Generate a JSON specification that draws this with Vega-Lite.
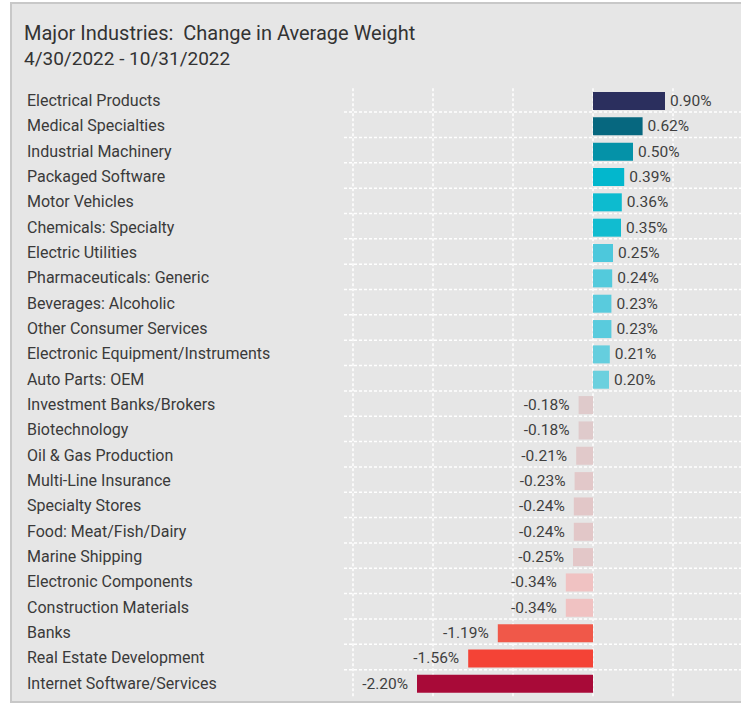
{
  "$schema": "https://vega.github.io/schema/vega-lite/v6.json",
  "width": 733,
  "height": 699,
  "autosize": {"type": "none"},
  "padding": {"left": 11, "top": 3, "right": -3, "bottom": 5},
  "background": "white",
  "config": {
    "view": {"fill": "#e6e6e6", "stroke": "#c8c8c8", "strokeWidth": 2},
    "font": "Roboto",
    "text": {"font": "Roboto"}
  },
  "title": {
    "text": "Major Industries:\u00a0\u00a0Change in Average Weight",
    "subtitle": "4/30/2022 - 10/31/2022",
    "anchor": "start",
    "frame": "group",
    "orient": "top",
    "offset": -66,
    "dx": 13,
    "font": "Roboto",
    "fontSize": 20,
    "fontWeight": "normal",
    "color": "#333333",
    "subtitleFont": "Roboto",
    "subtitleFontSize": 19,
    "subtitleColor": "#333333",
    "subtitlePadding": 6
  },
  "datasets": {
    "rows": [
      {"name": "Electrical Products", "value": 0.90},
      {"name": "Medical Specialties", "value": 0.62},
      {"name": "Industrial Machinery", "value": 0.50},
      {"name": "Packaged Software", "value": 0.39},
      {"name": "Motor Vehicles", "value": 0.36},
      {"name": "Chemicals: Specialty", "value": 0.35},
      {"name": "Electric Utilities", "value": 0.25},
      {"name": "Pharmaceuticals: Generic", "value": 0.24},
      {"name": "Beverages: Alcoholic", "value": 0.23},
      {"name": "Other Consumer Services", "value": 0.23},
      {"name": "Electronic Equipment/Instruments", "value": 0.21},
      {"name": "Auto Parts: OEM", "value": 0.20},
      {"name": "Investment Banks/Brokers", "value": -0.18},
      {"name": "Biotechnology", "value": -0.18},
      {"name": "Oil & Gas Production", "value": -0.21},
      {"name": "Multi-Line Insurance", "value": -0.23},
      {"name": "Specialty Stores", "value": -0.24},
      {"name": "Food: Meat/Fish/Dairy", "value": -0.24},
      {"name": "Marine Shipping", "value": -0.25},
      {"name": "Electronic Components", "value": -0.34},
      {"name": "Construction Materials", "value": -0.34},
      {"name": "Banks", "value": -1.19},
      {"name": "Real Estate Development", "value": -1.56},
      {"name": "Internet Software/Services", "value": -2.20}
    ],
    "grid": [{"g": -3}, {"g": -2}, {"g": -1}, {"g": 0}, {"g": 1}]
  },
  "data": {"name": "rows"},
  "encoding": {
    "y": {
      "field": "name",
      "type": "nominal",
      "sort": null,
      "axis": null,
      "scale": {
        "domain": ["Electrical Products", "Medical Specialties", "Industrial Machinery", "Packaged Software", "Motor Vehicles", "Chemicals: Specialty", "Electric Utilities", "Pharmaceuticals: Generic", "Beverages: Alcoholic", "Other Consumer Services", "Electronic Equipment/Instruments", "Auto Parts: OEM", "Investment Banks/Brokers", "Biotechnology", "Oil & Gas Production", "Multi-Line Insurance", "Specialty Stores", "Food: Meat/Fish/Dairy", "Marine Shipping", "Electronic Components", "Construction Materials", "Banks", "Real Estate Development", "Internet Software/Services"],
        "paddingInner": 0,
        "paddingOuter": 0,
        "range": [85.3, 693.5]
      }
    }
  },
  "layer": [
    {
      "transform": [{"filter": "datum.name !== 'Electrical Products'"}],
      "mark": {"type": "rule", "color": "white", "strokeWidth": 1.5, "strokeDash": [3, 2]},
      "encoding": {
        "y": {"field": "name", "type": "nominal", "bandPosition": -0.06},
        "x": {"datum": -3.1125, "type": "quantitative", "axis": null, "scale": {"domain": [-7.275, 1.8875], "nice": false, "zero": false}},
        "x2": {"datum": 1.8875}
      }
    },
    {
      "data": {"name": "grid"},
      "mark": {"type": "rule", "color": "white", "strokeWidth": 1.5, "strokeDash": [3, 2]},
      "encoding": {
        "x": {"field": "g", "type": "quantitative"},
        "y": {"datum": "Electrical Products", "type": "nominal", "bandPosition": 0},
        "y2": {"datum": "Internet Software/Services", "bandPosition": 1}
      }
    },
    {
      "mark": {"type": "bar", "height": {"band": 0.71}},
      "encoding": {
        "x": {"field": "value", "type": "quantitative"},
        "color": {
          "field": "value",
          "type": "quantitative",
          "legend": null,
          "scale": {
            "domain": [-2.2, -1.56, -1.19, -0.34, -0.25, -0.18, 0.2, 0.25, 0.35, 0.39, 0.5, 0.62, 0.9],
            "range": ["#a80a38", "#f44336", "#f05849", "#f0c2c2", "#e3c7c8", "#dfcacb", "#6bd0de", "#4dc8dc", "#11bcd0", "#02b7cd", "#0592a8", "#06677f", "#2b2f5e"],
            "interpolate": "rgb"
          }
        }
      }
    },
    {
      "mark": {"type": "text", "align": "left", "baseline": "middle", "fontSize": 16, "color": "#3a3a3a", "font": "Roboto"},
      "encoding": {
        "x": {"datum": -7.075, "type": "quantitative"},
        "text": {"field": "name"}
      }
    },
    {
      "transform": [
        {"filter": "datum.value >= 0"},
        {"calculate": "format(datum.value, '.2f') + '%'", "as": "label"}
      ],
      "mark": {"type": "text", "align": "left", "baseline": "middle", "dx": 5, "fontSize": 15.5, "color": "#3f3f3f", "font": "Roboto"},
      "encoding": {
        "x": {"field": "value", "type": "quantitative"},
        "text": {"field": "label"}
      }
    },
    {
      "transform": [
        {"filter": "datum.value < 0"},
        {"calculate": "'-' + format(abs(datum.value), '.2f') + '%'", "as": "label"}
      ],
      "mark": {"type": "text", "align": "right", "baseline": "middle", "dx": -9, "fontSize": 15.5, "color": "#3f3f3f", "font": "Roboto"},
      "encoding": {
        "x": {"field": "value", "type": "quantitative"},
        "text": {"field": "label"}
      }
    }
  ]
}
